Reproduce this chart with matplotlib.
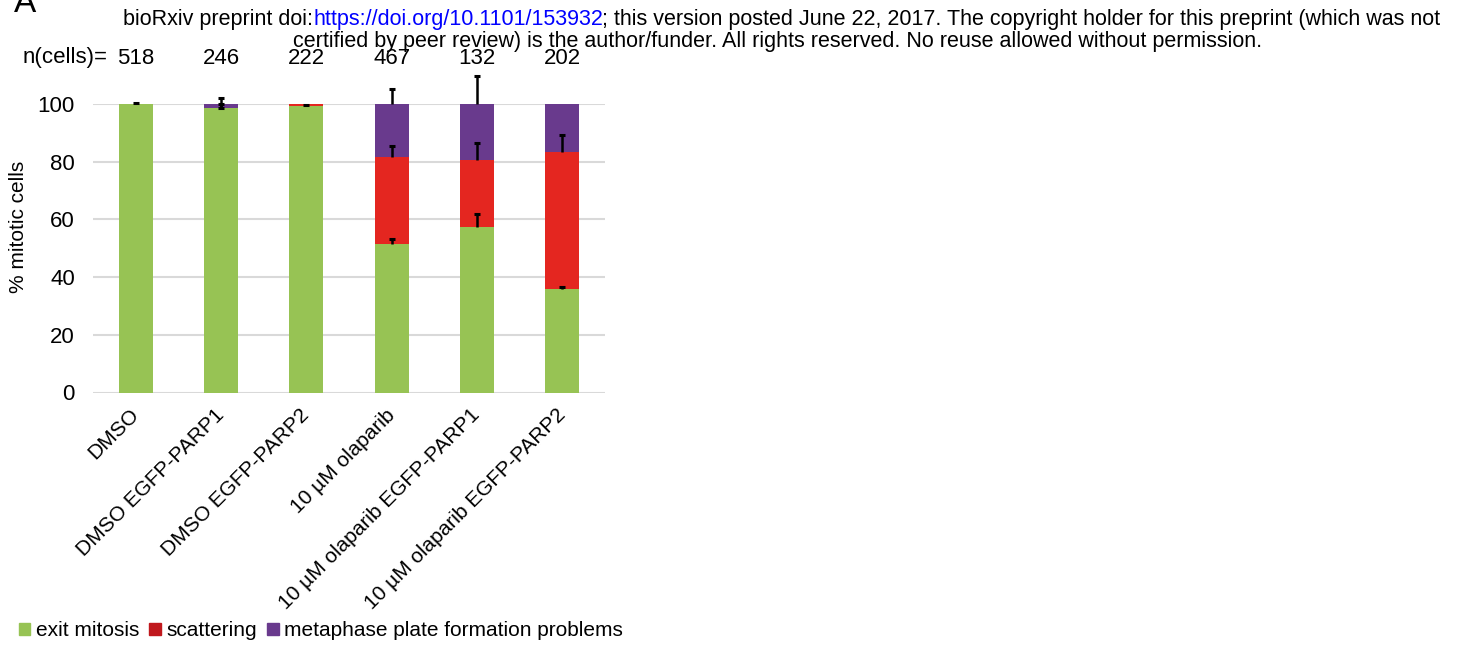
import matplotlib.pyplot as plt
import numpy as np
from matplotlib.patches import Patch

plt.rcParams['font.family'] = ['Liberation Sans', 'DejaVu Sans']

conditions = ['DMSO', 'DMSO EGFP-PARP1', 'DMSO EGFP-PARP2', '10 µM olaparib',
              '10 µM olaparib EGFP-PARP1', '10 µM olaparib EGFP-PARP2']
n_cells = [518, 246, 222, 467, 132, 202]

# stacked percentages per condition
exit_mitosis = [100.0, 98.6, 99.2, 51.4, 57.3, 36.0]
scattering = [0.0, 0.0, 0.8, 30.1, 23.3, 47.4]
metaphase = [0.0, 1.4, 0.0, 18.5, 19.4, 16.6]

# errors drawn upward from each segment top (lower part only where shown)
err_exit = [0.5, 1.5, 0.5, 1.8, 4.5, 0.6]
err_scat = [0.0, 0.0, 0.0, 4.0, 5.9, 6.0]
err_meta = [0.0, 2.2, 0.0, 5.3, 9.8, 0.0]
err_meta_low = [0.0, 1.5, 0.0, 0.0, 0.0, 0.0]

green = '#97C354'
red = '#E42620'
purple = '#693A8D'

fig = plt.figure(figsize=(14.59, 6.5), dpi=100)
ax = fig.add_axes([93 / 1459, 1 - 392.5 / 650, 512 / 1459, 288.5 / 650])

x = np.arange(len(conditions))
w = 0.4
exit_mitosis = np.array(exit_mitosis)
scattering = np.array(scattering)
metaphase = np.array(metaphase)

ax.bar(x, exit_mitosis, w, color=green, zorder=2)
ax.bar(x, scattering, w, bottom=exit_mitosis, color=red, zorder=2)
ax.bar(x, metaphase, w, bottom=exit_mitosis + scattering, color=purple, zorder=2)


def draw_err(tops, up, low):
    up = np.array(up)
    low = np.array(low)
    keep = up > 0
    ax.vlines(x[keep], (tops - low)[keep], (tops + up)[keep], color='black',
              linewidth=1.8, zorder=3, clip_on=False)
    ax.plot(x[keep], (tops + up)[keep], ls='none', marker='_', ms=5, mew=2.2,
            color='black', zorder=3, clip_on=False)
    k2 = low > 0
    ax.plot(x[k2], (tops - low)[k2], ls='none', marker='_', ms=5, mew=2.2,
            color='black', zorder=3, clip_on=False)


draw_err(exit_mitosis, err_exit, np.zeros(6))
draw_err(exit_mitosis + scattering, err_scat, np.zeros(6))
draw_err(exit_mitosis + scattering + metaphase, err_meta, err_meta_low)

ax.set_xlim(-0.5, len(conditions) - 0.5)
ax.set_ylim(0, 100)
ax.set_yticks(np.arange(0, 101, 20))
ax.grid(axis='y', color='#D9D9D9', linewidth=1.5, zorder=0)
ax.set_axisbelow(True)
for s in ax.spines.values():
    s.set_visible(False)
ax.tick_params(axis='both', length=0)
ax.tick_params(axis='y', pad=13, labelsize=16)
ax.set_xticks(x)
ax.set_xticklabels(conditions, rotation=45, ha='right', va='center',
                   rotation_mode='anchor', fontsize=15)
ax.tick_params(axis='x', pad=14)

fig.text(19 / 1459, 1 - 227 / 650, '% mitotic cells', rotation=90,
         ha='center', va='center', fontsize=15)

# cell counts above the bars
fig.text(65 / 1459, 1 - 58 / 650, 'n(cells)=', ha='center', va='center', fontsize=16)
for xi, n in zip(x, n_cells):
    ax.text(xi, 1.159, str(n), transform=ax.get_xaxis_transform(),
            ha='center', va='center', fontsize=16)

fig.text(14 / 1459, 1 - 4 / 650, 'A', ha='left', va='center', fontsize=24)

# preprint header
hy1 = 1 - 20 / 650
fig.text(123 / 1459, hy1, 'bioRxiv preprint doi:', ha='left', va='center', fontsize=15.5)
fig.text(603 / 1459, hy1, 'https://doi.org/10.1101/153932', ha='right', va='center',
         fontsize=15.5, color='#0000FF')
fig.text(1440 / 1459, hy1,
         '; this version posted June 22, 2017. The copyright holder for this preprint (which was not',
         ha='right', va='center', fontsize=15.5)
fig.text(778 / 1459, 1 - 41 / 650,
         'certified by peer review) is the author/funder. All rights reserved. No reuse allowed without permission.',
         ha='center', va='center', fontsize=15.5)

handles = [Patch(color=green, label='exit mitosis'),
           Patch(color='#C0181D', label='scattering'),
           Patch(color=purple, label='metaphase plate formation problems')]
fig.legend(handles=handles, loc='center left', bbox_to_anchor=(19 / 1459, 1 - 631 / 650),
           ncol=3, frameon=False, fontsize=15, handlelength=0.55, handleheight=0.55,
           handletextpad=0.25, columnspacing=0.5, borderaxespad=0, borderpad=0)

fig.savefig('out.png', dpi=100)
